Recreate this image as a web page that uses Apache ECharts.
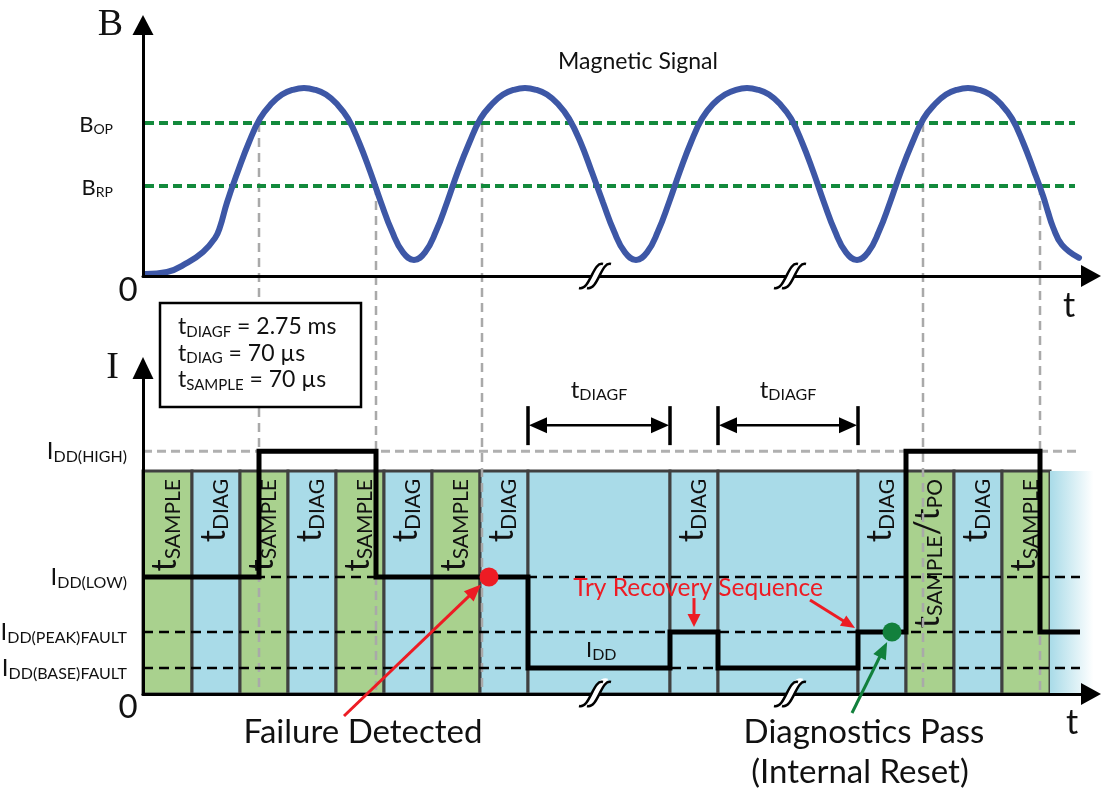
<!DOCTYPE html>
<html>
<head>
<meta charset="utf-8">
<script src="https://cdn.jsdelivr.net/npm/echarts@6.0.0/dist/echarts.min.js"></script>
<style>
html,body{margin:0;padding:0;background:#ffffff;}
#chart{width:1101px;height:791px;}
</style>
</head>
<body>
<div id="chart"></div>
<script>
// ---------- data (time in arbitrary units, B and I in % of axis height) ----------
const signalT = [0.2, 2.4, 4.4, 6.0, 7.2, 7.7, 8.4, 9.5, 10.6, 11.7, 12.8, 13.9, 15.0, 16.1,
  17.2, 18.3, 19.4, 20.5, 21.6, 22.7, 23.8, 24.9, 26.0, 27.1,
  28.2, 29.3, 30.4, 31.5, 32.65, 33.75, 34.9, 36.0, 37.1, 38.2,
  39.3, 40.4, 41.5, 42.6, 43.75, 44.85, 46.0, 47.1, 48.2, 49.3,
  50.4, 51.5, 52.6, 53.7, 54.8, 55.9, 57.0, 58.2, 59.3, 60.4,
  61.5, 62.6, 63.7, 64.8, 65.9, 67.0, 68.1, 69.2, 70.3, 71.4,
  72.5, 73.6, 74.7, 75.8, 76.95, 78.05, 79.2, 80.3, 81.4, 82.5,
  83.6, 84.7, 85.8, 86.9, 88.0, 89.1, 90.0, 90.5, 91.0, 91.9, 93.6];
const signalB = [0.8, 1.6, 5.2, 9.6, 15.1, 19.5, 29.3, 41.8, 53.3, 62.7, 68.5, 72.3, 74.2, 74.9,
  74.2, 72.3, 68.5, 62.7, 53.3, 41.8, 29.3, 17.8, 9.4, 6.4,
  9.4, 17.8, 29.3, 41.8, 53.3, 62.7, 68.5, 72.3, 74.2, 74.9,
  74.2, 72.3, 68.5, 62.7, 53.3, 41.8, 29.3, 17.8, 9.4, 6.4,
  9.4, 17.8, 29.3, 41.8, 53.3, 62.7, 68.5, 72.3, 74.2, 74.9,
  74.2, 72.3, 68.5, 62.7, 53.3, 41.8, 29.3, 17.8, 9.4, 6.4,
  9.4, 17.8, 29.3, 41.8, 53.3, 62.7, 68.5, 72.3, 74.2, 74.9,
  74.2, 72.3, 68.5, 62.7, 53.3, 41.8, 32.0, 25.5, 19.5, 12.4, 7.2];

const B_OP = 61.0;
const B_RP = 35.9;
const thresholdSpan = [0.2, 93.2];

const I_HIGH = 74.5;
const I_LOW = 35.9;
const I_PEAK = 19.0;
const I_BASE = 8.0;
const levelSpan = [0, 93.7];
const WINDOW_TOP = 68.4;

const stepT = [0, 11.6, 23.3, 38.5, 52.7, 57.5, 71.5, 76.3, 89.7, 93.7];
const stepI = [I_LOW, I_HIGH, I_LOW, I_BASE, I_PEAK, I_BASE, I_PEAK, I_HIGH, I_PEAK, I_PEAK];

const cellEdges = [0, 4.9, 9.7, 14.5, 19.3, 24.1, 28.9, 33.7, 38.5, 52.7, 57.5, 71.5, 76.3, 81.1, 85.9, 90.7, 95.8];
const cellKinds = ['sample','diag','sample','diag','sample','diag','sample','diag','wait','diag','wait','diag','sample','diag','sample','fade'];
const cellLabels = ['{m|t}{s|SAMPLE}','{m|t}{s|DIAG}','{m|t}{s|SAMPLE}','{m|t}{s|DIAG}','{m|t}{s|SAMPLE}','{m|t}{s|DIAG}','{m|t}{s|SAMPLE}','{m|t}{s|DIAG}','',
  '{m|t}{s|DIAG}','','{m|t}{s|DIAG}','{m|t}{s|SAMPLE}{m|/t}{s|PO}','{m|t}{s|DIAG}','{m|t}{s|SAMPLE}',''];

const crossT = [11.6, 23.3, 33.9, 78.0, 89.7];
const crossB = [B_OP, B_RP, B_OP, B_OP, B_RP];

const failT = 34.6;
const passT = 74.9;
const breakT = [45.2, 64.7];

const bLabels = {};
bLabels[B_OP] = '{m|B}{s|OP}';
bLabels[B_RP] = '{m|B}{s|RP}';
const iLabels = {};
iLabels[I_HIGH] = '{m|I}{s|DD(HIGH)}';
iLabels[I_LOW] = '{m|I}{s|DD(LOW)}';
iLabels[I_PEAK] = '{m|I}{s|DD(PEAK)FAULT}';
iLabels[I_BASE] = '{m|I}{s|DD(BASE)FAULT}';

// ---------- styling ----------
const SANS = "Lato, 'Open Sans', sans-serif";
const SERIF = "'Liberation Serif', 'DejaVu Serif', serif";
const T_MAX = 94.8;
const GREEN_CELL = '#a9d18e';
const BLUE_CELL = '#a9dbe8';
const RED = '#ed1c24';
const DKGREEN = '#12803c';

const chart = echarts.init(document.getElementById('chart'), null, {renderer: 'canvas', width: 1101, height: 791});

function axisX(gi) {
  return {
    gridIndex: gi, type: 'value', min: 0, max: T_MAX, z: 10,
    axisLine: {show: true, onZero: true, symbol: ['none', 'triangle'], symbolSize: [22, 20],
      lineStyle: {color: '#000', width: 3}},
    axisTick: {show: false}, axisLabel: {show: false}, splitLine: {show: false}
  };
}

const cellRich = {
  m: {fontFamily: SANS, fontSize: 34, fill: '#111'},
  s: {fontFamily: SANS, fontSize: 21, fill: '#111', padding: [15, 0, 0, 0]}
};

const option = {
  animation: false,
  textStyle: {fontFamily: SANS},
  grid: [
    {left: 143, top: 25, width: 948, height: 251, outerBoundsMode: 'none', containLabel: false},
    {left: 143, top: 368, width: 948, height: 326, outerBoundsMode: 'none', containLabel: false}
  ],
  xAxis: [axisX(0), axisX(1)],
  yAxis: [
    {
      gridIndex: 0, type: 'value', min: 0, max: 100, z: 10,
      axisLine: {show: true, symbol: ['none', 'triangle'], symbolSize: [21, 20], lineStyle: {color: '#000', width: 3}},
      axisTick: {show: false}, splitLine: {show: false},
      axisLabel: {
        customValues: [B_RP, B_OP], margin: 30, color: '#111',
        formatter: v => bLabels[v] || '',
        rich: {
          m: {fontFamily: SANS, fontSize: 22, color: '#111', padding: [4, 0, 0, 0]},
          s: {fontFamily: SANS, fontSize: 14, color: '#111', padding: [14, 0, 0, 0]}
        }
      },
      name: 'B', nameLocation: 'end', nameGap: 0, nameMoveOverlap: false,
      nameTextStyle: {fontFamily: SERIF, fontSize: 38, color: '#111', align: 'right', verticalAlign: 'middle', padding: [4, 20, 0, 0]}
    },
    {
      gridIndex: 1, type: 'value', min: 0, max: 100, z: 10,
      axisLine: {show: true, symbol: ['none', 'triangle'], symbolSize: [21, 22], lineStyle: {color: '#000', width: 3}},
      axisTick: {show: false}, splitLine: {show: false},
      axisLabel: {
        customValues: [I_BASE, I_PEAK, I_LOW, I_HIGH], margin: 16, color: '#111',
        formatter: v => iLabels[v] || '',
        rich: {
          m: {fontFamily: SANS, fontSize: 24, color: '#111'},
          s: {fontFamily: SANS, fontSize: 16, color: '#111', padding: [11, 0, 0, 0]}
        }
      },
      name: 'I', nameLocation: 'end', nameGap: 0, nameMoveOverlap: false,
      nameTextStyle: {fontFamily: SERIF, fontSize: 38, color: '#111', align: 'right', verticalAlign: 'middle', padding: [2, 24, 0, 0]}
    }
  ],
  series: [
    {
      type: 'custom', xAxisIndex: 1, yAxisIndex: 1, z: 1, silent: true, clip: false,
      data: cellKinds.map((k, i) => [cellEdges[i], cellEdges[i + 1]]),
      encode: {x: [0, 1]},
      renderItem: function (params, api) {
        const i = params.dataIndex;
        const kind = cellKinds[i];
        const s = api.coord([api.value(0), WINDOW_TOP]);
        const e = api.coord([api.value(1), 0]);
        let fill = kind === 'sample' ? GREEN_CELL : BLUE_CELL;
        if (kind === 'fade') {
          fill = {type: 'linear', x: 0, y: 0, x2: 1, y2: 0,
            colorStops: [{offset: 0, color: BLUE_CELL}, {offset: 0.85, color: '#ffffff'}, {offset: 1, color: '#ffffff'}]};
        }
        const children = [{
          type: 'rect',
          shape: {x: s[0], y: s[1], width: e[0] - s[0], height: e[1] - s[1]},
          style: kind === 'fade' ? {fill: fill} : {fill: fill, stroke: '#404040', lineWidth: 3}
        }];
        if (cellLabels[i]) {
          children.push({
            type: 'text', x: (s[0] + e[0]) / 2 - 2, y: s[1] + 8, rotation: Math.PI / 2,
            style: {text: cellLabels[i], rich: cellRich, align: 'right', verticalAlign: 'middle', fill: '#111'}
          });
        }
        return {type: 'group', children: children};
      }
    },
    {
      type: 'line', xAxisIndex: 0, yAxisIndex: 0, z: 3, silent: true, showSymbol: false,
      data: [[thresholdSpan[0], B_OP], [thresholdSpan[1], B_OP]],
      lineStyle: {color: '#138a3c', width: 4, type: [9, 5]}
    },
    {
      type: 'line', xAxisIndex: 0, yAxisIndex: 0, z: 3, silent: true, showSymbol: false,
      data: [[thresholdSpan[0], B_RP], [thresholdSpan[1], B_RP]],
      lineStyle: {color: '#138a3c', width: 4, type: [9, 5]}
    },
    {
      type: 'line', xAxisIndex: 0, yAxisIndex: 0, z: 5, silent: true, showSymbol: false, smooth: 0.45,
      data: signalT.map((t, i) => [t, signalB[i]]),
      lineStyle: {color: '#3d57a6', width: 6, cap: 'round'}
    },
    {
      type: 'line', xAxisIndex: 1, yAxisIndex: 1, z: 3, silent: true, showSymbol: false,
      data: [[levelSpan[0], I_HIGH], [levelSpan[1], I_HIGH]],
      lineStyle: {color: '#b0b0b0', width: 3, type: [9, 5]}
    },
    {
      type: 'line', xAxisIndex: 1, yAxisIndex: 1, z: 3, silent: true, showSymbol: false,
      data: [[levelSpan[0], I_LOW], [levelSpan[1], I_LOW]],
      lineStyle: {color: '#000', width: 2.5, type: [10, 6]}
    },
    {
      type: 'line', xAxisIndex: 1, yAxisIndex: 1, z: 3, silent: true, showSymbol: false,
      data: [[levelSpan[0], I_PEAK], [levelSpan[1], I_PEAK]],
      lineStyle: {color: '#000', width: 2.5, type: [10, 6]}
    },
    {
      type: 'line', xAxisIndex: 1, yAxisIndex: 1, z: 3, silent: true, showSymbol: false,
      data: [[levelSpan[0], I_BASE], [levelSpan[1], I_BASE]],
      lineStyle: {color: '#000', width: 2.5, type: [10, 6]}
    },
    {
      type: 'line', xAxisIndex: 1, yAxisIndex: 1, z: 6, silent: true, showSymbol: false, step: 'end',
      data: stepT.map((t, i) => [t, stepI[i]]),
      lineStyle: {color: '#000', width: 5, join: 'miter', cap: 'butt'}
    },
    {
      type: 'scatter', xAxisIndex: 1, yAxisIndex: 1, z: 8, silent: true, symbolSize: 19,
      data: [[failT, I_LOW]], itemStyle: {color: RED, opacity: 1}
    },
    {
      type: 'scatter', xAxisIndex: 1, yAxisIndex: 1, z: 8, silent: true, symbolSize: 19,
      data: [[passT, I_PEAK]], itemStyle: {color: DKGREEN, opacity: 1}
    }
  ]
};

chart.setOption(option);

// ---------- annotations placed through the axes' own scales ----------
const P0 = (t, b) => chart.convertToPixel({xAxisIndex: 0, yAxisIndex: 0}, [t, b]);
const P1 = (t, v) => chart.convertToPixel({xAxisIndex: 1, yAxisIndex: 1}, [t, v]);
const g = [];

function arrow(x1, y1, x2, y2, color, w, hl, hw, z) {
  const dx = x2 - x1, dy = y2 - y1, L = Math.hypot(dx, dy), ux = dx / L, uy = dy / L;
  const bx = x2 - ux * hl, by = y2 - uy * hl, px = -uy, py = ux;
  g.push({type: 'line', silent: true, z: z, shape: {x1: x1, y1: y1, x2: bx + ux, y2: by + uy}, style: {stroke: color, lineWidth: w}});
  g.push({type: 'polygon', silent: true, z: z, shape: {points: [[x2, y2], [bx + px * hw / 2, by + py * hw / 2], [bx - px * hw / 2, by - py * hw / 2]]}, style: {fill: color}});
}
function txt(x, y, text, size, color, align, rich, vAlign, family) {
  g.push({type: 'text', silent: true, z: 30, x: x, y: y,
    style: {text: text, fontFamily: family || SANS, fontSize: size, fill: color, align: align || 'center', verticalAlign: vAlign || 'middle', rich: rich}});
}

// grey crossing guides spanning both panels
crossT.forEach((t, k) => {
  const a = P0(t, crossB[k]), b = P1(t, 0);
  g.push({type: 'line', silent: true, z: 2, shape: {x1: a[0], y1: a[1], x2: b[0], y2: b[1]},
    style: {stroke: '#a9a9a9', lineWidth: 2.5, lineDash: [9, 6]}});
});

// axis break marks
function breakMark(c) {
  const ox = c[0] - 17, oy = c[1] - 14;
  const bez = (dx, color, w) => ({type: 'bezierCurve', silent: true, z: 25,
    shape: {x1: ox + 25 + dx, y1: oy + 2, cpx1: ox + 15 + dx, cpy1: oy - 1, cpx2: ox + 12 + dx, cpy2: oy + 29, x2: ox + 1 + dx, y2: oy + 26},
    style: {stroke: color, lineWidth: w, fill: 'none'}});
  g.push(bez(4, '#ffffff', 7), bez(0, '#000', 2.5), bez(8, '#000', 2.5));
}
breakT.forEach(t => { breakMark(P0(t, 0)); breakMark(P1(t, 0)); });

// origin zeros and time-axis names
const o0 = P0(0, 0), o1 = P1(0, 0);
txt(o0[0] - 15, o0[1] + 14, '0', 33, '#111');
txt(o1[0] - 15, o1[1] + 13, '0', 33, '#111');
const e0 = P0(T_MAX, 0), e1 = P1(T_MAX, 0);
txt(e0[0] - 22, e0[1] + 30, 't', 34, '#111');
txt(e1[0] - 19, e1[1] + 29, 't', 34, '#111');

// t_DIAGF dimension arrows
const hp = P1(0, I_HIGH)[1];
const dimRich = {m: {fontFamily: SANS, fontSize: 24, fill: '#111'}, s: {fontFamily: SANS, fontSize: 16, fill: '#111', padding: [10, 0, 0, 0]}};
cellKinds.forEach((k, i) => {
  if (k !== 'wait') return;
  const xa = P1(cellEdges[i], 0)[0], xb = P1(cellEdges[i + 1], 0)[0];
  const ya = hp - 26;
  g.push({type: 'line', silent: true, z: 20, shape: {x1: xa + 10, y1: ya, x2: xb - 10, y2: ya}, style: {stroke: '#000', lineWidth: 2.5}});
  g.push({type: 'polygon', silent: true, z: 20, shape: {points: [[xa + 1, ya], [xa + 19, ya - 8], [xa + 19, ya + 8]]}, style: {fill: '#000'}});
  g.push({type: 'polygon', silent: true, z: 20, shape: {points: [[xb - 1, ya], [xb - 19, ya - 8], [xb - 19, ya + 8]]}, style: {fill: '#000'}});
  [xa, xb].forEach(x => g.push({type: 'line', silent: true, z: 20, shape: {x1: x, y1: hp - 45, x2: x, y2: hp - 6}, style: {stroke: '#000', lineWidth: 3.5}}));
  txt((xa + xb) / 2, hp - 61, '{m|t}{s|DIAGF}', 24, '#111', 'center', dimRich);
});

// parameter box
g.push({type: 'rect', silent: true, z: 28, shape: {x: 160, y: 303, width: 201, height: 104}, style: {fill: '#ffffff', stroke: '#000', lineWidth: 2.5}});
const boxRich = {m: {fontFamily: SANS, fontSize: 23, fill: '#111'}, s: {fontFamily: SANS, fontSize: 15, fill: '#111', padding: [10, 0, 0, 0]}};
txt(178, 327, '{m|t}{s|DIAGF}{m| = 2.75 ms}', 23, '#111', 'left', boxRich);
txt(178, 353.5, '{m|t}{s|DIAG}{m| = 70 µs}', 23, '#111', 'left', boxRich);
txt(178, 380, '{m|t}{s|SAMPLE}{m| = 70 µs}', 23, '#111', 'left', boxRich);

// titles and callouts
txt(638, 62, 'Magnetic Signal', 23, '#111');
const iddRich = {m: {fontFamily: SANS, fontSize: 22, fill: '#111'}, s: {fontFamily: SANS, fontSize: 16, fill: '#111', padding: [10, 0, 0, 0]}};
txt(P1(45, 0)[0] - 7, (P1(0, I_PEAK)[1] + P1(0, I_BASE)[1]) / 2, '{m|I}{s|DD}', 22, '#111', 'left', iddRich);
txt(698, 588, 'Try Recovery Sequence', 24.5, RED);
txt(363, 732, 'Failure Detected', 33, '#111');
txt(864, 732, 'Diagnostics Pass', 33, '#111');
txt(860, 772, '(Internal Reset)', 33, '#111');

// callout arrows
const fp = P1(failT, I_LOW);
(function () {
  const tx = 344, ty = 716, dx = tx - fp[0], dy = ty - fp[1], L = Math.hypot(dx, dy);
  arrow(tx, ty, fp[0] + dx / L * 11, fp[1] + dy / L * 11, RED, 3, 17, 14, 26);
})();
const pp = P1(passT, I_PEAK);
(function () {
  const tx = 852, ty = 713, dx = tx - pp[0], dy = ty - pp[1], L = Math.hypot(dx, dy);
  arrow(tx, ty, pp[0] + dx / L * 11, pp[1] + dy / L * 11, DKGREEN, 3, 17, 14, 26);
})();
const pulseMid = P1((stepT[4] + stepT[5]) / 2, I_PEAK);
arrow(pulseMid[0], pulseMid[1] - 34, pulseMid[0], pulseMid[1] - 5, RED, 3, 13, 13, 26);
const corner = P1(stepT[6], I_PEAK);
arrow(810, 600, corner[0] - 3, corner[1] - 4, RED, 3, 14, 12, 26);

chart.setOption({graphic: g});
</script>
</body>
</html>
